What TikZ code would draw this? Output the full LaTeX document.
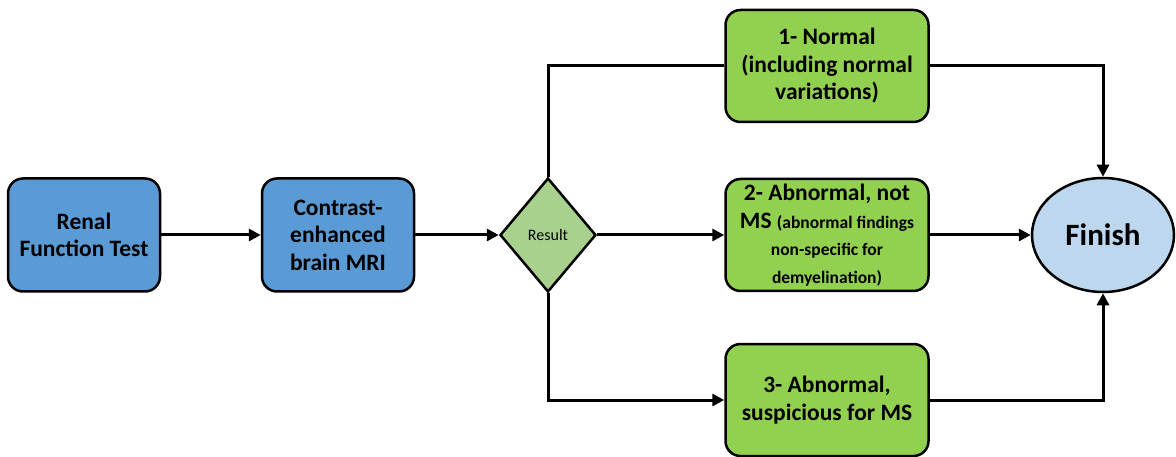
\documentclass[tikz,border=0pt]{standalone}
\usepackage{fontspec}
\setmainfont{Carlito}
\usetikzlibrary{shapes.geometric,arrows.meta}
\definecolor{stepblue}{HTML}{5B9BD5}
\definecolor{stepgreen}{HTML}{92D050}
\definecolor{decgreen}{HTML}{A9D18E}
\definecolor{endblue}{HTML}{BDD7EE}
\newcommand{\bigtxt}{\fontsize{23.5}{27.5}\selectfont\bfseries}
\newcommand{\smalltxt}{\fontsize{17.5}{23}\selectfont\bfseries}
\begin{document}
\begin{tikzpicture}[x=1pt,y=-1pt,
  box/.style={draw=black,line width=2.5pt,rounded corners=15pt,
    minimum width=152pt,minimum height=113pt,inner sep=0pt,align=center,
    font=\bigtxt},
  bluebox/.style={box,fill=stepblue},
  greenbox/.style={box,fill=stepgreen,minimum width=203pt,minimum height=112pt},
  decision/.style={diamond,draw=black,line width=2.5pt,fill=decgreen,
    minimum width=96pt,minimum height=114pt,inner sep=0pt,
    font=\fontsize{16}{19}\selectfont},
  terminal/.style={ellipse,draw=black,line width=2.5pt,fill=endblue,
    minimum width=142pt,minimum height=114pt,inner sep=0pt,
    font=\fontsize{31}{36}\selectfont\bfseries},
  link/.style={draw=black,line width=3pt},
  arrow/.style={link,-{Triangle[length=12pt,width=12pt]}}]
\useasboundingbox (0,0) rectangle (1176,457);

\node[bluebox] (renal) at (84,235) {Renal\\Function Test};
\node[bluebox] (mri) at (338,235) {Contrast-\\enhanced\\brain MRI};
\node[decision] (result) at (548,235) {Result};
\node[greenbox] (normal) at (827,66) {1- Normal\\(including normal\\variations)};
\node[greenbox] (notms) at (827,235)
  {2- Abnormal, not\\MS {\smalltxt(abnormal findings}\\{\smalltxt non-specific for}\\{\smalltxt demyelination)}};
\node[greenbox] (susp) at (827,400) {3- Abnormal,\\suspicious for MS};
\node[terminal] (finish) at (1103,235) {Finish};

\draw[arrow] (renal) -- (mri);
\draw[arrow] (mri) -- (result);
\draw[link] (result.north) |- (normal.west);
\draw[arrow] (result) -- (notms);
\draw[arrow] (result.south) |- (susp.west);
\draw[arrow] (normal.east) -| (finish.north);
\draw[arrow] (notms) -- (finish);
\draw[arrow] (susp.east) -| (finish.south);
\end{tikzpicture}
\end{document}
